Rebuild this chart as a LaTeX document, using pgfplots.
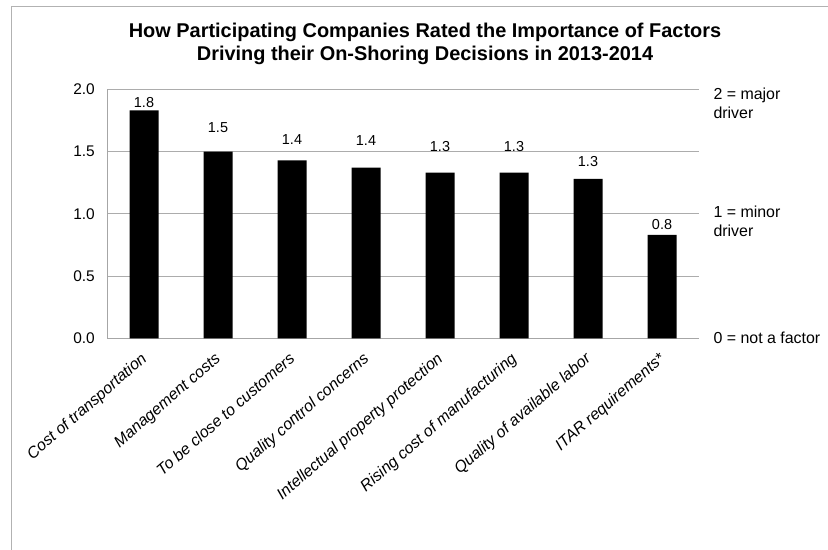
\documentclass[border=0pt]{standalone}
\usepackage{pgfplots}
\pgfplotsset{compat=1.18}
\usepackage{pgfplotstable}
\usepackage{fontspec}
\setmainfont{Liberation Sans}
\pgfplotstableread{
x y off
0 1.83 2.7
1 1.50 18.7
2 1.43 15.7
3 1.37 22.3
4 1.33 20.7
5 1.33 20.7
6 1.28 12.3
7 0.83 5
}\datatable
\begin{document}
\begin{tikzpicture}[x=1bp,y=1bp]
\path[use as bounding box] (0,0) rectangle (828,550);
\draw[gray!60, line width=0.7bp] (11,0) -- (11,544) -- (828,544);
\node[anchor=base, font=\fontsize{20}{23}\selectfont\bfseries] at (425,512.5) {How Participating Companies Rated the Importance of Factors};
\node[anchor=base, font=\fontsize{20}{23}\selectfont\bfseries] at (425,489.5) {Driving their On-Shoring Decisions in 2013-2014};
\begin{axis}[
  at={(107bp,211.7bp)}, anchor=south west,
  width=592bp, height=249bp, scale only axis,
  xmin=-0.5, xmax=7.5, ymin=0, ymax=2,
  ytick={0,0.5,1,1.5,2},
  xtick={0,1,2,3,4,5,6,7},
  xticklabels={Cost of transportation, Management costs, To be close to customers, Quality control concerns, Intellectual property protection, Rising cost of manufacturing, Quality of available labor, ITAR requirements*},
  axis x line*=bottom, axis y line*=left,
  axis line style={-, gray!70, line width=0.8bp},
  ymajorgrids, grid style={gray!65, line width=0.8bp},
  major tick length=0pt,
  yticklabel style={anchor=east, inner sep=0pt, xshift=-12bp, font=\fontsize{15.5}{18}\selectfont},
  xticklabel style={xshift=-4bp, yshift=-13bp, rotate=41, anchor=north east, inner sep=0pt, font=\fontsize{16}{19}\selectfont\itshape},
  /pgf/number format/.cd, fixed, fixed zerofill, precision=1, assume math mode=true,
]
\addplot[ybar, bar width=29bp, fill=black, draw=none,
  visualization depends on={\thisrow{off} \as \myoff},
  nodes near coords,
  every node near coord/.append style={anchor=south, inner sep=0pt, yshift=\myoff pt, font=\fontsize{14.5}{17}\selectfont, text=black},
] table[x=x, y=y] {\datatable};
\end{axis}
\node[anchor=base west, font=\fontsize{16}{19}\selectfont] at (710,450) {2 = major};
\node[anchor=base west, font=\fontsize{16}{19}\selectfont] at (710,431) {driver};
\node[anchor=base west, font=\fontsize{16}{19}\selectfont] at (710,332) {1 = minor};
\node[anchor=base west, font=\fontsize{16}{19}\selectfont] at (710,313) {driver};
\node[anchor=base west, font=\fontsize{16}{19}\selectfont] at (710,206) {0 = not a factor};
\end{tikzpicture}
\end{document}
